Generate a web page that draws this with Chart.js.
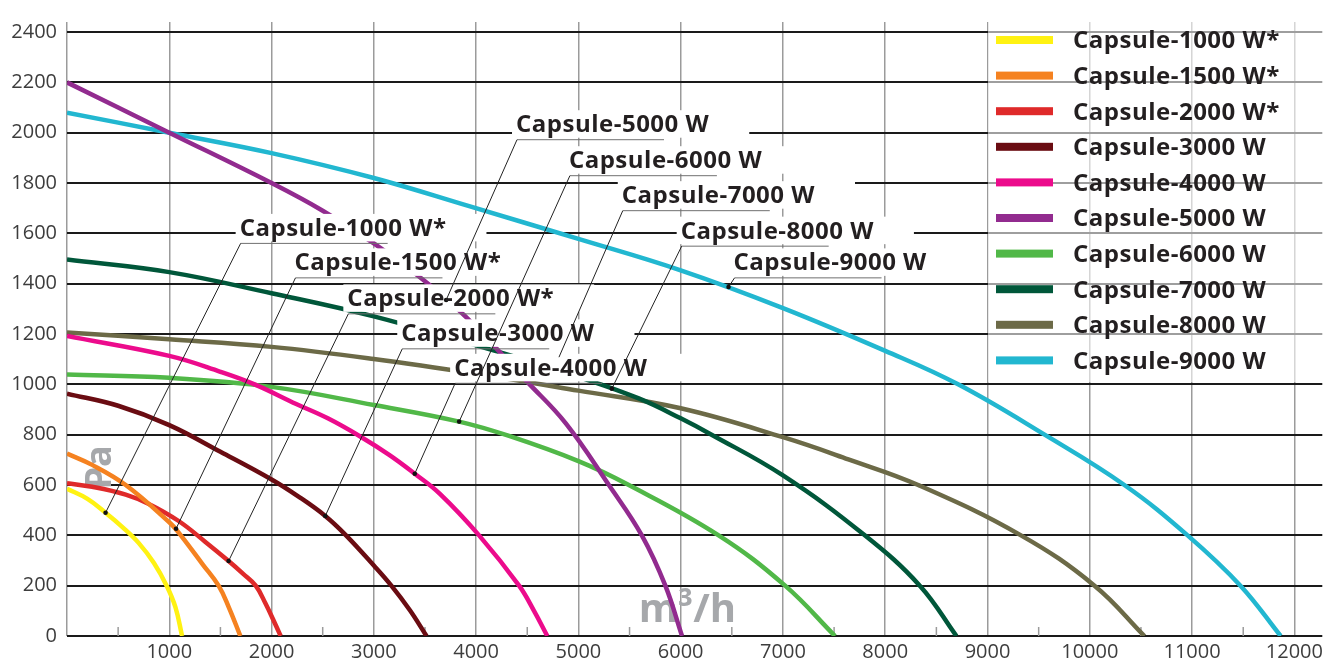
<!DOCTYPE html>
<html>
<head>
<meta charset="utf-8">
<script src="https://cdn.jsdelivr.net/npm/chart.js@4.4.1/dist/chart.umd.min.js"></script>
<style>
  html, body { margin: 0; padding: 0; background: #fff; }
</style>
</head>
<body>
<canvas id="fanChart" width="1327" height="661"></canvas>
<script>
// series names and colours
const names = ['Capsule-1000 W*', 'Capsule-1500 W*', 'Capsule-2000 W*', 'Capsule-3000 W', 'Capsule-4000 W',
    'Capsule-5000 W', 'Capsule-6000 W', 'Capsule-7000 W', 'Capsule-8000 W', 'Capsule-9000 W'];
const colors = ['#fff212', '#f58220', '#df2a2a', '#6a0c12', '#ec0b8c',
    '#922b8f', '#51b848', '#00573a', '#6c6a47', '#22b7d0'];

// air flow (m3/h) and pressure (Pa)
const flow1000 = [0, 200, 377, 550, 700, 850, 974, 1060, 1125];
const pa1000 = [585, 545, 490, 430, 370, 290, 200, 115, 0];
const flow1500 = [0, 246, 574, 1000, 1088, 1328, 1482, 1580, 1695];
const pa1500 = [725, 680, 600, 452, 413, 284, 200, 116, 0];
const flow2000 = [0, 246, 574, 800, 1088, 1350, 1580, 1720, 1845, 1941, 2039, 2089];
const pa2000 = [607, 593, 562, 525, 458, 375, 298, 248, 200, 129, 45, 0];
const flow3000 = [0, 500, 1000, 1500, 2000, 2260, 2525, 2728, 3000, 3171, 3351, 3515];
const pa3000 = [963, 915, 838, 732, 622, 555, 477, 400, 280, 200, 103, 0];
const flow4000 = [0, 1000, 1500, 1834, 2241, 2550, 2859, 3150, 3400, 3646, 4029, 4420, 4566, 4696];
const pa4000 = [1192, 1113, 1050, 1000, 922, 865, 795, 720, 645, 565, 400, 200, 100, 0];
const flow5000 = [0, 1000, 2000, 2500, 3000, 3500, 3900, 4500, 4875, 5298, 5620, 5850, 6013];
const pa5000 = [2200, 2000, 1800, 1690, 1560, 1410, 1268, 1010, 846, 600, 400, 200, 0];
const flow6000 = [0, 1000, 2000, 3000, 3834, 4322, 5000, 5493, 6371, 7021, 7509];
const pa6000 = [1039, 1026, 990, 918, 852, 795, 695, 600, 400, 200, 0];
const flow7000 = [0, 1000, 2000, 3000, 4000, 4500, 5000, 5590, 6000, 6302, 7000, 7800, 8338, 8696];
const pa7000 = [1496, 1446, 1362, 1270, 1155, 1095, 1030, 944, 865, 800, 638, 400, 200, 0];
const flow8000 = [0, 1000, 2000, 3000, 4000, 5000, 6000, 7000, 7639, 8322, 9327, 10046, 10534];
const pa8000 = [1206, 1179, 1149, 1101, 1042, 975, 905, 790, 702, 600, 400, 200, 0];
const flow9000 = [0, 1000, 2000, 3000, 3932, 5000, 6000, 7000, 8000, 8712, 9558, 10338, 10956, 11473, 11866];
const pa9000 = [2080, 2000, 1919, 1820, 1708, 1578, 1453, 1303, 1133, 1000, 800, 600, 400, 200, 0];

const flows = [flow1000, flow1500, flow2000, flow3000, flow4000, flow5000, flow6000, flow7000, flow8000, flow9000];
const pressures = [pa1000, pa1500, pa2000, pa3000, pa4000, pa5000, pa6000, pa7000, pa8000, pa9000];

// tick values
const xTickValues = [0, 1000, 2000, 3000, 4000, 5000, 6000, 7000, 8000, 9000, 10000, 11000, 12000];
const xMinorTicks = [500, 1500, 2500, 3500, 4500, 5500, 6500, 7500, 8500, 9500, 10500, 11500];
const yTickValues = [0, 200, 400, 600, 800, 1000, 1200, 1400, 1600, 1800, 2000, 2200, 2400];

// callout labels: where the text sits and where its leader points (data units)
const noteFlow = [1688, 2224, 2741, 3268, 3785, 4390, 4907, 5424, 6000, 6517];
const notePa = [1590, 1453, 1310, 1171, 1034, 2002, 1859, 1720, 1579, 1453];
const leaderFlow = [377, 1066, 1580, 2525, 3400, 3707, 3834, 4810, 5327, 6468];
const leaderPa = [490, 426, 298, 477, 645, 1335, 852, 1108, 983, 1387];
const leaderDot = [1, 1, 1, 1, 1, 1, 1, 0, 1, 1];

const labelFont = 'bold 24px "Open Sans"';

const fanDecor = {
    id: 'fanDecor',
    beforeDatasetsDraw(chart) {
        const {ctx, scales: {x, y}} = chart;
        ctx.save();
        // small ticks between the thousands
        ctx.strokeStyle = '#9b9b9b';
        ctx.lineWidth = 1.5;
        xMinorTicks.forEach(v => {
            const px = x.getPixelForValue(v);
            ctx.beginPath();
            ctx.moveTo(px, y.bottom);
            ctx.lineTo(px, y.bottom - 9);
            ctx.stroke();
        });
        // unit captions
        ctx.fillStyle = '#a6a8ab';
        ctx.font = 'bold 40px "Open Sans"';
        ctx.textBaseline = 'alphabetic';
        ctx.fillText('m³/h', x.getPixelForValue(5590), y.getPixelForValue(55));
        ctx.translate(x.getPixelForValue(429), y.getPixelForValue(670));
        ctx.rotate(-Math.PI / 2);
        ctx.textAlign = 'center';
        ctx.font = 'bold 36px "Open Sans"';
        ctx.fillText('Pa', 0, 0);
        ctx.restore();
    },
    afterDatasetsDraw(chart) {
        const {ctx, scales: {x, y}} = chart;
        ctx.save();
        ctx.font = labelFont;
        ctx.letterSpacing = '0.5px';
        const notes = names.map((n, i) => ({
            text: n,
            left: x.getPixelForValue(noteFlow[i]),
            base: y.getPixelForValue(notePa[i]),
            ex: x.getPixelForValue(leaderFlow[i]),
            ey: y.getPixelForValue(leaderPa[i]),
            dot: leaderDot[i]
        }));

        // white boxes behind the callouts
        ctx.fillStyle = '#fff';
        notes.forEach(n => {
            const w = ctx.measureText(n.text).width;
            ctx.fillRect(n.left - 4, n.base - 22, w + 44, 27.5);
        });

        // underline + leader line
        notes.forEach(n => {
            const uy = n.base + 7.5;
            ctx.lineWidth = 1;
            ctx.strokeStyle = '#707070';
            ctx.beginPath();
            ctx.moveTo(n.left + 148, uy);
            ctx.lineTo(n.left + 1, uy);
            ctx.stroke();
            ctx.strokeStyle = '#222';
            ctx.beginPath();
            ctx.moveTo(n.left + 1, uy);
            ctx.lineTo(n.ex, n.ey);
            ctx.stroke();
            if (n.dot) {
                ctx.fillStyle = '#111';
                ctx.beginPath();
                ctx.arc(n.ex, n.ey, 2.3, 0, 2 * Math.PI);
                ctx.fill();
            }
        });

        ctx.fillStyle = '#231f20';
        ctx.textAlign = 'left';
        ctx.textBaseline = 'alphabetic';
        notes.forEach(n => ctx.fillText(n.text, n.left, n.base));

        // legend block, top right
        ctx.fillStyle = 'rgba(255,255,255,0.58)';
        ctx.fillRect(988, 12, 339, 370);
        names.forEach((n, i) => {
            const cy = 40 + i * 35.6;
            ctx.fillStyle = colors[i];
            ctx.fillRect(996, cy - 4, 57, 8);
            ctx.fillStyle = '#231f20';
            ctx.fillText(n, 1073, cy + 8.3);
        });
        ctx.restore();
    }
};

const tickFont = {family: '"Open Sans"', size: 20};

new Chart(document.getElementById('fanChart'), {
    type: 'line',
    data: {
        datasets: names.map((n, i) => ({
            label: n,
            data: flows[i].map((f, j) => ({x: f, y: pressures[i][j]})),
            borderColor: colors[i],
            backgroundColor: colors[i],
            borderWidth: 4.5,
            pointRadius: 0,
            tension: 0.4,
            fill: false
        }))
    },
    options: {
        responsive: false,
        animation: false,
        layout: {padding: {top: 13, right: 2, left: 0, bottom: 0}},
        plugins: {
            legend: {display: false},
            tooltip: {enabled: false}
        },
        scales: {
            x: {
                type: 'linear',
                min: 0,
                max: 12273,
                border: {display: false},
                grid: {color: '#9b9b9b', lineWidth: 1.5, drawTicks: false},
                afterBuildTicks: s => { s.ticks = xTickValues.map(v => ({value: v})); },
                afterFit: s => { s.height = 25; },
                ticks: {
                    autoSkip: false,
                    maxRotation: 0,
                    padding: 4,
                    color: '#3d3d3d',
                    font: tickFont,
                    callback: v => (v === 0 ? '' : String(v))
                }
            },
            y: {
                type: 'linear',
                min: 0,
                max: 2440,
                border: {display: false},
                grid: {color: '#1a1a1a', lineWidth: 2, drawTicks: false},
                afterBuildTicks: s => { s.ticks = yTickValues.map(v => ({value: v})); },
                afterFit: s => { s.width = 67; },
                ticks: {
                    padding: 10,
                    color: '#3d3d3d',
                    font: tickFont,
                    callback: v => String(v)
                }
            }
        }
    },
    plugins: [fanDecor]
});
</script>
</body>
</html>
